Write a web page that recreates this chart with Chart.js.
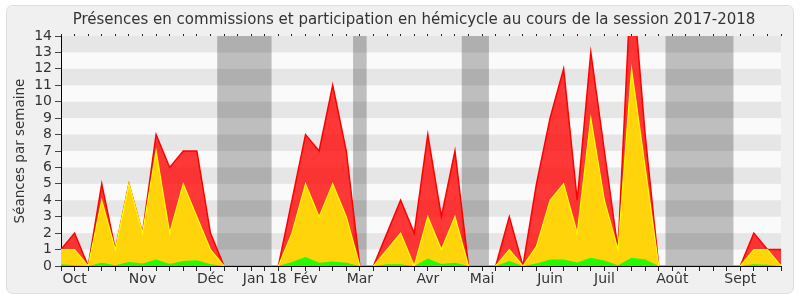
<!DOCTYPE html>
<html>
<head>
<meta charset="utf-8">
<script src="https://cdn.jsdelivr.net/npm/chart.js@4"></script>
<style>
  html, body { margin: 0; padding: 0; background: #fff; }
</style>
</head>
<body>
<canvas id="presences" width="800" height="300"></canvas>
<script>
// une valeur par semaine, de fin septembre 2017 à fin septembre 2018
const hemicycle =   [1, 2, 0, 5, 1, 5, 2, 8, 6, 7, 7, 2, 0, 0, 0, 0, 0, 4, 8, 7, 11, 7, 0, 0, 2, 4, 2, 8, 3, 7, 0, 0, 0, 3, 0, 5, 9, 12, 4, 13, 7, 1, 18, 8, 0, 0, 0, 0, 0, 0, 0, 2, 1, 1];
const commission =  [1, 1, 0, 4, 1, 5, 2, 7, 2, 5, 3, 1, 0, 0, 0, 0, 0, 2, 5, 3, 5, 3, 0, 0, 1, 2, 0, 3, 1, 3, 0, 0, 0, 1, 0, 1.2, 4, 5, 2, 9, 4, 1, 12, 6, 0, 0, 0, 0, 0, 0, 0, 1, 1, 0];
const interventions = [0.1, 0.05, 0, 0.2, 0.05, 0.25, 0.15, 0.4, 0.12, 0.3, 0.35, 0.1, 0, 0, 0, 0, 0, 0.25, 0.55, 0.2, 0.28, 0.2, 0, 0, 0.1, 0.1, 0, 0.45, 0.12, 0.2, 0, 0, 0, 0.3, 0, 0.15, 0.4, 0.4, 0.22, 0.5, 0.33, 0.05, 0.5, 0.4, 0, 0, 0, 0, 0, 0, 0, 0.1, 0.08, 0];

const moisLabels = ['Oct', 'Nov', 'Déc', 'Jan 18', 'Fév', 'Mar', 'Avr', 'Mai', 'Juin', 'Juil', 'Août', 'Sept'];
const moisSemaine = [1, 6, 11, 15, 18, 22, 27, 31, 36, 40, 45, 50];

// vacances parlementaires, en semaines
const vacances = [[11.5, 15.5], [21.5, 22.5], [29.5, 31.5], [44.5, 49.5]];

const titre = 'Présences en commissions et participation en hémicycle au cours de la session 2017-2018';

let semaines = hemicycle.map(() => '');
moisSemaine.forEach((s, i) => { semaines[s] = moisLabels[i]; });

const fond = {
    id: 'fond',
    beforeDraw(chart) {
        const ctx = chart.ctx;
        const { left, right, top, bottom } = chart.chartArea;
        const x = chart.scales.x, y = chart.scales.y;
        ctx.save();
        ctx.fillStyle = '#fff';
        ctx.fillRect(0, 0, chart.width, chart.height);
        ctx.beginPath();
        ctx.roundRect(6.5, 5.5, 787, 288, 6);
        ctx.fillStyle = '#f0f0f0';
        ctx.fill();
        ctx.strokeStyle = '#dedede';
        ctx.stroke();

        ctx.fillStyle = '#fafafa';
        ctx.fillRect(left, top, right - left, bottom - top);
        ctx.fillStyle = '#e6e6e6';
        for (let v = 1; v < 14; v += 2) {
            let y1 = y.getPixelForValue(v + 1), y0 = y.getPixelForValue(v);
            ctx.fillRect(left, y1, right - left, y0 - y1);
        }
        ctx.fillStyle = 'rgba(0,0,0,0.24)';
        vacances.forEach(([a, b]) => {
            let xa = x.getPixelForValue(a), xb = x.getPixelForValue(b);
            ctx.fillRect(xa, top, xb - xa, bottom - top);
        });
        ctx.restore();
    },
    afterDraw(chart) {
        const ctx = chart.ctx;
        ctx.save();
        ctx.font = '15px "DejaVu Sans"';
        ctx.fillStyle = '#333';
        ctx.textAlign = 'center';
        ctx.fillText(titre, 414, 24);
        ctx.restore();
    }
};

new Chart(document.getElementById('presences'), {
    type: 'line',
    data: {
        labels: semaines,
        datasets: [
            { label: 'Interventions', data: interventions, fill: 'origin', backgroundColor: 'rgba(0,255,0,0.85)', borderWidth: 0, pointRadius: 0 },
            { label: 'Présences en commission', data: commission, fill: 'origin', backgroundColor: '#ffd40a', borderColor: '#ffff00', borderWidth: 1.2, pointRadius: 0 },
            { label: 'Participation en hémicycle', data: hemicycle, fill: 'origin', backgroundColor: 'rgba(255,0,0,0.78)', borderColor: '#ff0000', borderWidth: 1.5, pointRadius: 0 }
        ]
    },
    options: {
        responsive: false,
        animation: false,
        layout: { padding: { top: 34, left: 8, right: 19, bottom: 8 } },
        plugins: { legend: { display: false }, tooltip: { enabled: false } },
        elements: { line: { tension: 0 } },
        scales: {
            x: {
                type: 'category',
                position: 'bottom',
                afterFit: s => { s.height = 26; },
                border: { display: true, color: '#000' },
                grid: { drawOnChartArea: false, tickLength: 5, color: '#222' },
                ticks: { autoSkip: false, maxRotation: 0, padding: 0, color: '#333', font: { family: 'DejaVu Sans', size: 14 } }
            },
            x2: {
                type: 'category',
                position: 'top',
                afterFit: s => { s.height = 2; },
                border: { display: false },
                grid: { drawOnChartArea: false, tickLength: 2, color: '#222' },
                ticks: { display: false }
            },
            y: {
                min: 0,
                max: 14,
                afterFit: s => { s.width = 53; },
                border: { display: true, color: '#000' },
                grid: { drawOnChartArea: false, tickLength: 6, color: '#444' },
                ticks: { stepSize: 1, autoSkip: false, padding: 3, color: '#333', font: { family: 'DejaVu Sans', size: 14 } },
                title: { display: true, text: 'Séances par semaine', color: '#333', padding: { top: 4, bottom: 0 }, font: { family: 'DejaVu Sans', size: 13.5 } }
            }
        }
    },
    plugins: [fond]
});
</script>
</body>
</html>
